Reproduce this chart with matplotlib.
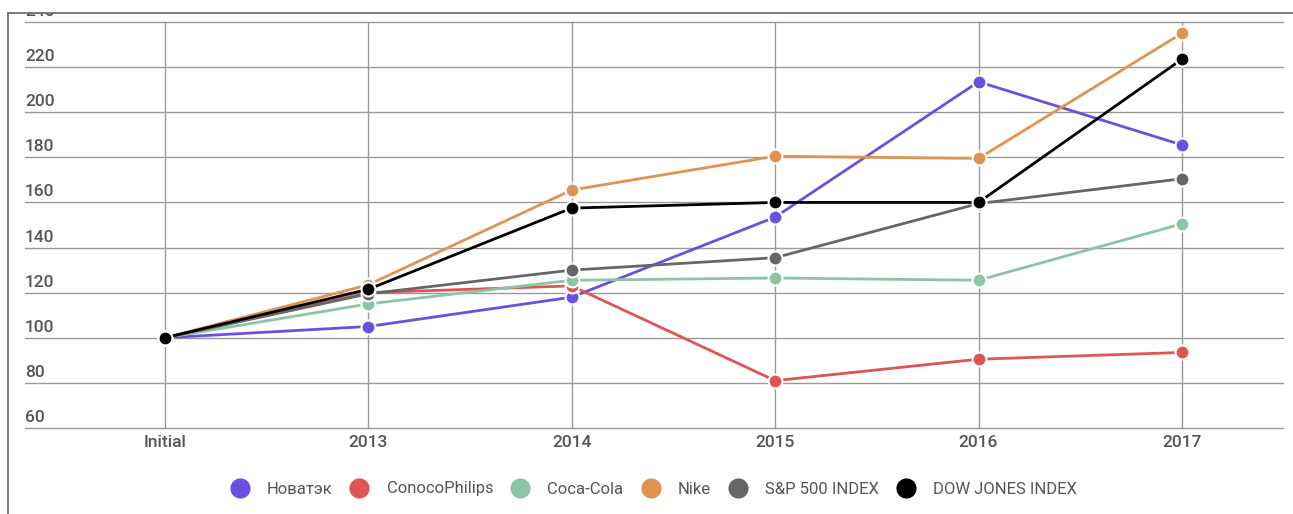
import matplotlib
matplotlib.use("Agg")
import matplotlib.pyplot as plt
from matplotlib.lines import Line2D
from matplotlib.patches import Rectangle
import matplotlib.transforms as mtransforms

plt.rcParams['font.family'] = ['Roboto', 'DejaVu Sans']

categories = ["Initial", "2013", "2014", "2015", "2016", "2017"]
series_names = ["Новатэк", "ConocoPhilips", "Coca-Cola", "Nike", "S&P 500 INDEX", "DOW JONES INDEX"]
novatek = [100, 105, 118, 153.5, 213.5, 185.5]
conoco = [100, 120, 123, 81, 90.5, 93.5]
cocacola = [100, 115, 125.5, 126.5, 125.5, 150.5]
nike = [100, 123.5, 165.5, 180.5, 179.5, 235]
sp500 = [100, 119.5, 130, 135.5, 159.5, 170.5]
dowjones = [100, 121.5, 157.5, 160, 160, 223.5]
series_values = [novatek, conoco, cocacola, nike, sp500, dowjones]
colors = ["#6a4fe0", "#e05454", "#8cc4a6", "#e0944f", "#666666", "#000000"]
y_ticks = [60, 80, 100, 120, 140, 160, 180, 200, 220, 240]

W, H = 1293, 514
fig = plt.figure(figsize=(W / 100, H / 100), dpi=100)
ax = fig.add_axes([25 / W, 1 - 428 / H, (1283 - 25) / W, (428 - 22) / H])

x = list(range(len(categories)))
for name, vals, c in zip(series_names, series_values, colors):
    ax.plot(x, vals, color=c, lw=2, marker='o', ms=10, mfc=c, mec='white', mew=1.5,
            label=name, zorder=3, solid_capstyle='round')

ax.set_xlim(-0.688, 5.497)
ax.set_ylim(60, 240)
ax.set_yticks(y_ticks)
ax.set_xticks(x)
ax.set_xticklabels(categories, fontsize=12.5, color="#555555", fontweight='medium')
ax.tick_params(axis='x', length=0, pad=5)
ax.tick_params(axis='y', length=0, labelleft=False)
ax.grid(True, color="#9a9a9a", lw=1)
ax.set_axisbelow(True)
for l in ax.get_ygridlines() + ax.get_xgridlines():
    l.set_clip_on(False)
for s in ax.spines.values():
    s.set_visible(False)

trans = mtransforms.blended_transform_factory(ax.transAxes, ax.transData)
off = mtransforms.ScaledTranslation(0 / 100, 3 / 100, fig.dpi_scale_trans)
for t in y_ticks:
    ax.text(0, t, str(t), transform=trans + off, ha='left', va='bottom',
            fontsize=12.5, color="#555555", fontweight='medium', clip_on=False)

# white area above top border and border lines
fig.add_artist(Rectangle((0, 1 - 13 / H), 1, 13 / H, transform=fig.transFigure,
                         facecolor='white', edgecolor='none', zorder=10))
fig.add_artist(Line2D([8 / W, 1], [1 - 13 / H, 1 - 13 / H], transform=fig.transFigure,
                      color="#666666", lw=1.2, zorder=11))
fig.add_artist(Line2D([8 / W, 8 / W], [0, 1 - 13 / H], transform=fig.transFigure,
                      color="#666666", lw=1.2, zorder=11))

handles = [Line2D([], [], ls='none', marker='o', ms=14.5, mfc=c, mec='none') for c in colors]
leg = fig.legend(handles, series_names, loc='center', bbox_to_anchor=(653 / W, 1 - 489 / H),
                 ncol=6, frameon=False, fontsize=12, handletextpad=1.0, columnspacing=1.0,
                 handlelength=1.25)
for t in leg.get_texts():
    t.set_color("#555555")

fig.savefig("out.png", dpi=100)
